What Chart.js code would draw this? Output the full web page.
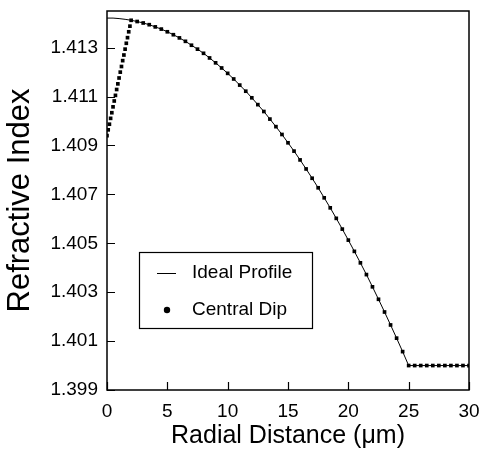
<!DOCTYPE html>
<html>
<head>
<meta charset="utf-8">
<script src="https://cdn.jsdelivr.net/npm/chart.js@4.4.1/dist/chart.umd.min.js"></script>
<style>
  html, body { margin: 0; padding: 0; background: #fff; }
  #wrap { width: 480px; height: 453px; }
</style>
</head>
<body>
<div id="wrap"><canvas id="profileChart" width="480" height="453"></canvas></div>
<script>
// Radial positions (um) and the ideal graded-index profile
const radius = [
  0, 0.5, 1, 1.5, 2, 2.5, 3, 3.5, 4, 4.5, 5, 5.5, 6, 6.5, 7, 7.5, 8, 8.5, 9, 9.5,
  10, 10.5, 11, 11.5, 12, 12.5, 13, 13.5, 14, 14.5, 15, 15.5, 16, 16.5, 17, 17.5,
  18, 18.5, 19, 19.5, 20, 20.5, 21, 21.5, 22, 22.5, 23, 23.5, 24, 24.5, 25,
  25.5, 26, 26.5, 27, 27.5, 28, 28.5, 29, 29.5, 30
];
const idealIndex = [
  1.41421, 1.41421, 1.41419, 1.41416, 1.41412, 1.41407, 1.41401, 1.41394, 1.41385, 1.41376,
  1.41365, 1.41353, 1.41340, 1.41326, 1.41310, 1.41294, 1.41277, 1.41258, 1.41238, 1.41217,
  1.41195, 1.41172, 1.41147, 1.41122, 1.41095, 1.41067, 1.41039, 1.41008, 1.40977, 1.40945,
  1.40911, 1.40877, 1.40841, 1.40804, 1.40766, 1.40727, 1.40686, 1.40645, 1.40602, 1.40558,
  1.40513, 1.40467, 1.40420, 1.40372, 1.40322, 1.40271, 1.40219, 1.40166, 1.40112, 1.40057,
  1.40000, 1.40000, 1.40000, 1.40000, 1.40000, 1.40000, 1.40000, 1.40000, 1.40000, 1.40000,
  1.40000
];

// Core region of the dipped profile (r < 2 um), sampled finely
const dipRadius = [0, 0.1, 0.2, 0.3, 0.4, 0.5, 0.6, 0.7, 0.8, 0.9, 1.0, 1.1, 1.2, 1.3, 1.4, 1.5, 1.6, 1.7, 1.8, 1.9];
const dipIndex = [
  1.40940, 1.40964, 1.40987, 1.41011, 1.41034, 1.41058, 1.41082, 1.41105, 1.41129, 1.41152,
  1.41176, 1.41200, 1.41223, 1.41247, 1.41270, 1.41294, 1.41318, 1.41341, 1.41365, 1.41388
];
// beyond r = 2 um the dipped profile follows the ideal one
const dipJoin = 4;

const xTicks = [0, 5, 10, 15, 20, 25, 30];
const yTicks = [1.399, 1.401, 1.403, 1.405, 1.407, 1.409, 1.411, 1.413];

const legendItems = ['Ideal Profile', 'Central Dip'];

const FONT = '"Liberation Sans", Arial, Helvetica, sans-serif';

const idealData = radius.map((r, i) => ({ x: r, y: idealIndex[i] }));
const dipData = dipRadius.map((r, i) => ({ x: r, y: dipIndex[i] }))
  .concat(radius.slice(dipJoin).map((r, i) => ({ x: r, y: idealIndex[dipJoin + i] })));

// frame, inward tick marks and boxed legend
const framePlugin = {
  id: 'frame',
  afterDraw(chart) {
    const { ctx, chartArea: a, scales } = chart;
    ctx.save();
    ctx.strokeStyle = '#000';
    ctx.lineWidth = 1.5;
    ctx.strokeRect(a.left, a.top, a.right - a.left, a.bottom - a.top);

    ctx.lineWidth = 1.2;
    ctx.beginPath();
    scales.x.ticks.forEach(t => {
      const px = Math.round(scales.x.getPixelForValue(t.value)) + 0.5;
      ctx.moveTo(px, a.bottom);
      ctx.lineTo(px, a.bottom - 8);
    });
    scales.y.ticks.forEach(t => {
      const py = Math.round(scales.y.getPixelForValue(t.value)) + 0.5;
      ctx.moveTo(a.left, py);
      ctx.lineTo(a.left + 8, py);
    });
    ctx.stroke();

    // legend box
    const bx = 139, by = 252, bw = 173, bh = 76;
    ctx.lineWidth = 1.2;
    ctx.strokeRect(bx + 0.5, by + 0.5, bw, bh);
    ctx.fillStyle = '#000';
    ctx.font = '19px ' + FONT;
    ctx.textBaseline = 'middle';
    ctx.textAlign = 'left';

    ctx.lineWidth = 1;
    ctx.beginPath();
    ctx.moveTo(157, 273.5);
    ctx.lineTo(176, 273.5);
    ctx.stroke();
    ctx.fillText(legendItems[0], 192, 273);

    ctx.beginPath();
    ctx.arc(167, 310, 3.2, 0, Math.PI * 2);
    ctx.fill();
    ctx.fillText(legendItems[1], 192, 310);
    ctx.restore();
  }
};

new Chart(document.getElementById('profileChart'), {
  type: 'scatter',
  data: {
    datasets: [
      {
        label: legendItems[0],
        data: idealData,
        showLine: true,
        borderColor: '#000',
        borderWidth: 1,
        pointRadius: 0,
        tension: 0
      },
      {
        label: legendItems[1],
        data: dipData,
        showLine: false,
        pointStyle: 'rect',
        pointRadius: 2.6,
        backgroundColor: '#000',
        borderColor: '#000',
        borderWidth: 0
      }
    ]
  },
  options: {
    responsive: false,
    animation: false,
    layout: { padding: { top: 11, right: 11, left: 0, bottom: 0 } },
    plugins: {
      legend: { display: false },
      tooltip: { enabled: false }
    },
    scales: {
      x: {
        type: 'linear',
        min: 0,
        max: 30,
        afterBuildTicks: s => { s.ticks = xTicks.map(v => ({ value: v })); },
        afterFit: s => {
          s.height = 63;
          s.paddingLeft = 0;
          s.paddingRight = 0;
        },
        grid: { display: false, drawTicks: false },
        border: { display: false },
        ticks: {
          color: '#000',
          padding: 10,
          maxRotation: 0,
          font: { family: FONT, size: 19 }
        },
        title: {
          display: true,
          text: 'Radial Distance (μm)',
          color: '#000',
          padding: { top: 0, bottom: 2 },
          font: { family: FONT, size: 25 }
        }
      },
      y: {
        type: 'linear',
        min: 1.399,
        max: 1.4145,
        afterBuildTicks: s => { s.ticks = yTicks.map(v => ({ value: v })); },
        afterFit: s => {
          s.width = 107;
          s.paddingTop = 0;
          s.paddingBottom = 0;
        },
        grid: { display: false, drawTicks: false },
        border: { display: false },
        ticks: {
          color: '#000',
          padding: 9,
          font: { family: FONT, size: 19 },
          callback: v => v.toFixed(3)
        },
        title: {
          display: true,
          text: 'Refractive Index',
          color: '#000',
          padding: { top: 2, bottom: 0 },
          font: { family: FONT, size: 31 }
        }
      }
    }
  },
  plugins: [framePlugin]
});
</script>
</body>
</html>
